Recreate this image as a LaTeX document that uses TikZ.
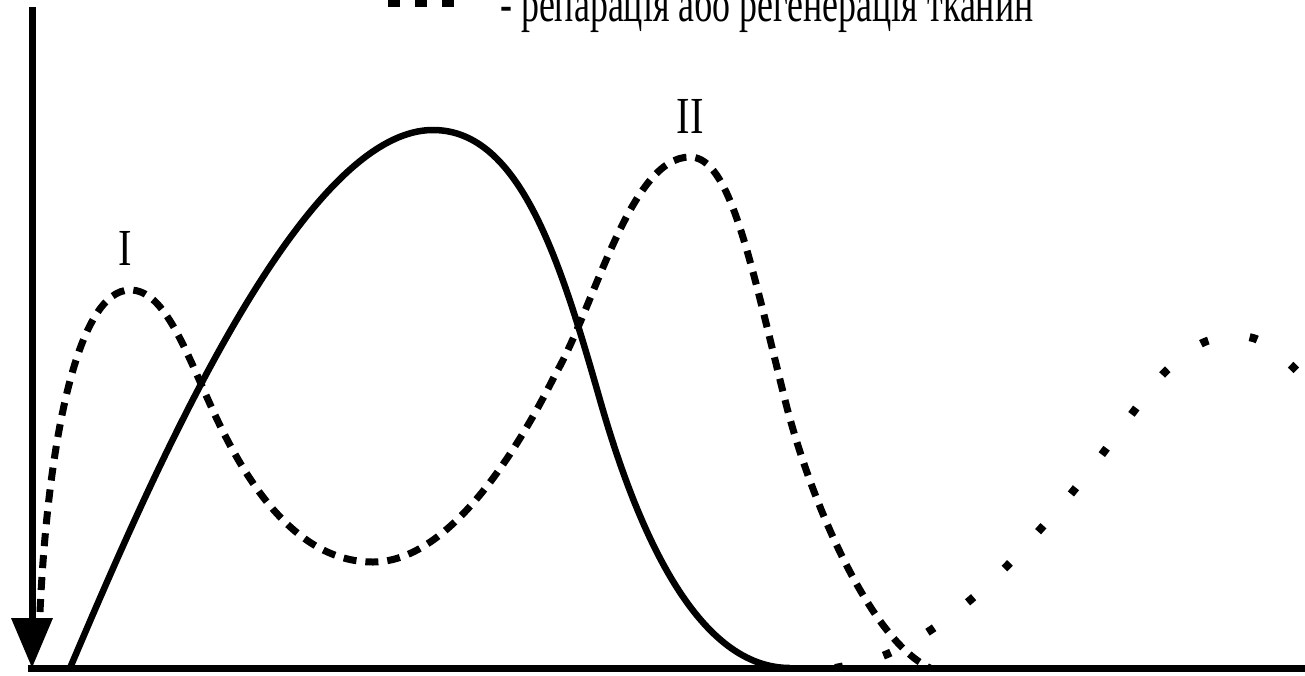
\documentclass[tikz,border=0pt]{standalone}
\usepackage{fontspec}
\setmainfont{Liberation Serif}
\usetikzlibrary{arrows.meta}

\begin{document}
\begin{tikzpicture}[
  x=1pt,y=-1pt,
  axis/.style={line width=7pt},
  damage/.style={line width=6.5pt,line join=round},
  repair/.style={line width=7pt,dash pattern=on 13pt off 9pt},
  regen/.style={line width=8pt,dash pattern=on 8pt off 42pt},
  peaklabel/.style={font=\fontsize{52}{52}\selectfont,inner sep=0pt,anchor=base},
  legendtext/.style={font=\fontsize{52}{52}\selectfont,inner sep=0pt,anchor=base west}
]
\useasboundingbox (0,0) rectangle (1305,675);
% axes
\coordinate (origin) at (32,668);
\coordinate (ytop) at (32,7);
\coordinate (xstart) at (28,668);
\coordinate (xend) at (1310,668);
\draw[axis] (xstart) -- (xend);
\draw[axis,-{Triangle[length=50pt,width=40pt]}] (ytop) -- (origin);
% legend
\coordinate (legA) at (388,2);
\coordinate (legB) at (457,2);
\draw[line width=9pt,dash pattern=on 12pt off 15pt] (legA) -- (legB);
\node[legendtext] (legtext) at (500,21) {\scalebox{0.69}[1]{- репарація або регенерація тканин}};
% solid curve
\draw[damage] (70,668) .. controls (150,480) and (300,130) .. (433,130)
  .. controls (520,130) and (560,260) .. (600,400)
  .. controls (640,540) and (700,668) .. (790,668);
% dashed curve
\draw[repair] (40,612) .. controls (48,440) and (78,290) .. (130,290)
  .. controls (165,290) and (185,350) .. (215,415)
  .. controls (250,490) and (300,562) .. (373,562)
  .. controls (440,562) and (505,475) .. (555,375)
  .. controls (595,306) and (630,157) .. (690,157)
  .. controls (730,157) and (750,260) .. (785,400)
  .. controls (810,500) and (870,640) .. (930,668);
% dotted curve
\draw[regen] plot[smooth,tension=0.6] coordinates {
  (835,668) (880,657) (923,635) (963,606) (1001,572) (1036,534) (1070,495)
  (1103,453) (1134,411) (1167,370) (1207,341) (1253,338) (1293,367) (1320,400)};
% peak labels
\node[peaklabel] (peakI) at (125,265) {\scalebox{0.78}[1]{I}};
\node[peaklabel] (peakII) at (690,133) {\scalebox{0.78}[1]{II}};
\end{tikzpicture}
\end{document}
